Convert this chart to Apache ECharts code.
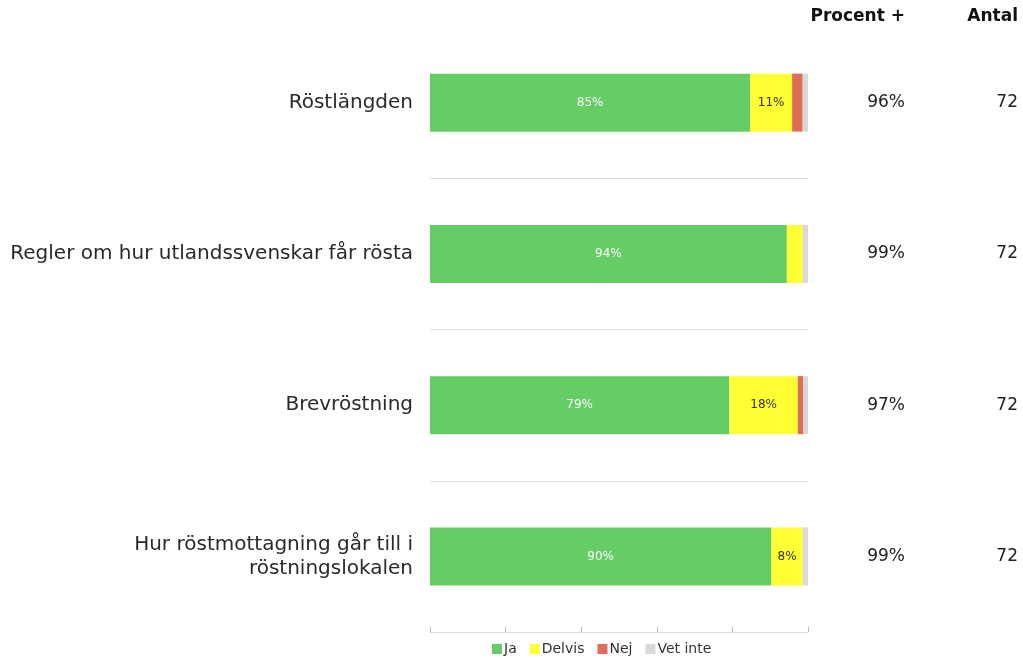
<!DOCTYPE html>
<html>
<head>
<meta charset="utf-8">
<script src="https://cdn.jsdelivr.net/npm/echarts@6/dist/echarts.min.js"></script>
<style>html,body{margin:0;padding:0;background:#fff;}#c{width:1023px;height:658px;}</style>
</head>
<body>
<div id="c"></div>
<script>
var categories = ['Röstlängden', 'Regler om hur utlandssvenskar får rösta', 'Brevröstning', 'Hur röstmottagning går till i\nröstningslokalen'];
var seriesNames = ['Ja', 'Delvis', 'Nej', 'Vet inte'];
var ja = [84.7, 94.4, 79.2, 90.3];
var delvis = [11.1, 4.2, 18.1, 8.3];
var nej = [2.8, 0, 1.4, 0];
var vetInte = [1.4, 1.4, 1.4, 1.4];
var procentPlus = ['96%', '99%', '97%', '99%'];
var antal = ['72', '72', '72', '72'];
var colors = ['#66cc66', '#ffff33', '#e06c55', '#d9d9d9'];
var labelColors = ['#ffffff', '#333333', '#333333', '#333333'];

var FONT = 'DejaVu Sans';
var values = [ja, delvis, nej, vetInte];
var series = values.map(function (arr, i) {
  return {
    name: seriesNames[i],
    type: 'bar',
    stack: 'total',
    barWidth: 58,
    data: arr,
    itemStyle: { color: colors[i] },
    label: {
      show: true,
      position: 'inside',
      color: labelColors[i],
      fontFamily: FONT,
      fontSize: 12,
      formatter: function (p) { return p.value >= 5 ? Math.round(p.value) + '%' : ''; }
    },
    emphasis: { disabled: true }
  };
});

var chart = echarts.init(document.getElementById('c'));
chart.setOption({
  animation: false,
  textStyle: { fontFamily: FONT },
  grid: { left: 430, right: 215, top: 27, bottom: 26, containLabel: false },
  legend: {
    data: seriesNames,
    top: 642,
    left: 492,
    padding: 0,
    itemWidth: 10,
    itemHeight: 10,
    itemGap: 13,
    icon: 'rect',
    textStyle: { fontFamily: FONT, fontSize: 14, color: '#333', padding: [0, 0, 0, -3] }
  },
  xAxis: {
    type: 'value',
    min: 0, max: 100, interval: 20,
    axisLabel: { show: false },
    axisLine: { show: true, lineStyle: { color: '#d9d9d9' } },
    axisTick: { show: true, inside: true, length: 5, lineStyle: { color: '#bfbfbf' } },
    splitLine: { show: false }
  },
  yAxis: [
    {
      type: 'category',
      data: categories,
      inverse: true,
      axisLine: { show: false },
      axisTick: { show: false },
      axisLabel: { margin: 17, fontFamily: FONT, fontSize: 20, color: '#2a2a2a', lineHeight: 24, align: 'right', padding: [6, 0, 0, 0] },
      splitLine: { show: true, showMinLine: false, showMaxLine: false, lineStyle: { color: '#dcdcdc' } }
    },
    {
      type: 'category',
      data: procentPlus,
      inverse: true,
      position: 'right',
      axisLine: { show: false },
      axisTick: { show: false },
      axisLabel: { margin: 97, align: 'right', fontFamily: FONT, fontSize: 17, color: '#222', padding: [4, 0, 0, 0] }
    },
    {
      type: 'category',
      data: antal,
      inverse: true,
      position: 'right',
      axisLine: { show: false },
      axisTick: { show: false },
      axisLabel: { margin: 210, align: 'right', fontFamily: FONT, fontSize: 17, color: '#222', padding: [4, 0, 0, 0] }
    }
  ],
  graphic: [
    { type: 'text', right: 118, top: 8, style: { text: 'Procent +', fontFamily: FONT, fontSize: 17, fontWeight: 'bold', fill: '#111' } },
    { type: 'text', right: 5, top: 8, style: { text: 'Antal', fontFamily: FONT, fontSize: 17, fontWeight: 'bold', fill: '#111' } }
  ],
  series: series
});
</script>
</body>
</html>
